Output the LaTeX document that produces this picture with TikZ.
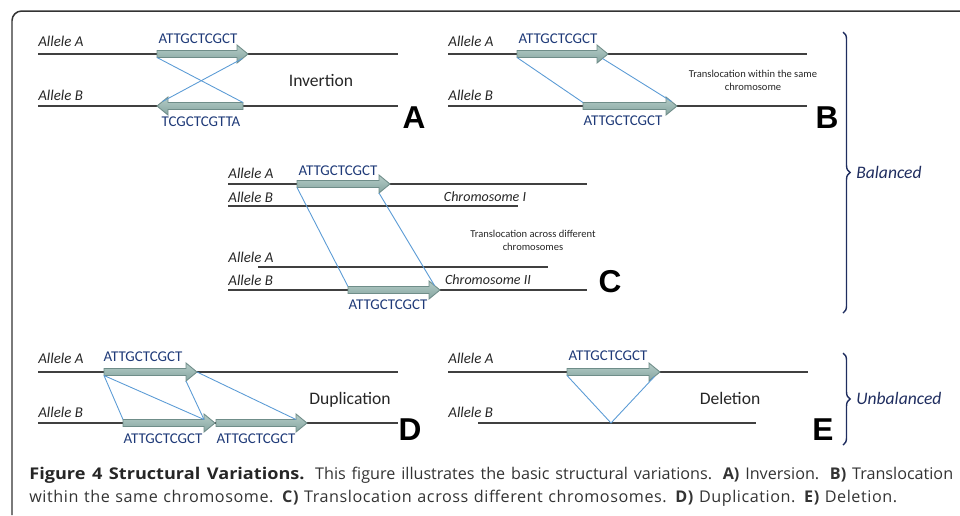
\documentclass[tikz,border=0pt]{standalone}
\usepackage{fontspec}
\setmainfont{Carlito}
\newfontfamily\letterfont{Liberation Sans}
\newfontfamily\capfont{Open Sans}
\newfontfamily\capwide[LetterSpace=3.5]{Open Sans}
\newfontfamily\captitle[FakeStretch=1.12]{Open Sans}
\usepackage{xcolor}
\usepackage{tikz}
\usetikzlibrary{decorations.pathreplacing,calc}
\definecolor{Backbone}{HTML}{404040}
\definecolor{SegTop}{HTML}{B4CBC6}
\definecolor{SegBot}{HTML}{86A6A1}
\definecolor{SegEdge}{HTML}{6F8D89}
\definecolor{Link}{HTML}{5B9BD5}
\definecolor{SeqNavy}{HTML}{1F3A78}
\definecolor{BraceNavy}{HTML}{1F2D5F}
\definecolor{CapGrey}{HTML}{333333}

% arrow-shaped segment: name, tail x, tip x, y
\newcommand{\seg}[4]{%
  \pgfmathsetmacro\hx{#3-11*sign(#3-#2)}
  \path[segarrow] (#2,#4-3.5) -- (\hx,#4-3.5) -- (\hx,#4-9) -- (#3,#4)
     -- (\hx,#4+9) -- (\hx,#4+3.5) -- (#2,#4+3.5) -- cycle;
  \coordinate (#1-tt)  at (#2,#4-3.5);
  \coordinate (#1-tb)  at (#2,#4+3.5);
  \coordinate (#1-jt)  at (\hx,#4-3.5);
  \coordinate (#1-hb)  at (\hx,#4+9);
  \coordinate (#1-us)  at ({(\hx+#3)/2},#4-4.5);
  \coordinate (#1-ls)  at ({(\hx+#3)/2},#4+4.5);
  \coordinate (#1-tip) at (#3,#4);
}

\begin{document}
\begin{tikzpicture}[
  x=0.02cm, y=-0.02cm,
  backbone/.style={draw=Backbone, line width=0.85pt},
  segarrow/.style={draw=SegEdge, line width=0.5pt, top color=SegTop, bottom color=SegBot},
  link/.style={draw=Link, line width=0.5pt},
  allele/.style={anchor=west, inner sep=0pt, text=black!85,
                 font=\fontsize{8.5}{10}\selectfont\itshape},
  seq/.style={inner sep=0pt, text=SeqNavy, font=\fontsize{8.5}{10}\selectfont},
  title/.style={inner sep=0pt, text=black!85, font=\fontsize{10}{12}\selectfont},
  note/.style={inner sep=0pt, align=center, text=black!85,
               font=\fontsize{6}{7.5}\selectfont},
  chrom/.style={inner sep=0pt, text=black!85, font=\fontsize{8}{10}\selectfont\itshape},
  panel/.style={inner sep=0pt, font=\letterfont\bfseries\fontsize{18}{20}\selectfont},
  grp/.style={decorate, decoration={brace, amplitude=4pt}, draw=BraceNavy, line width=0.8pt},
  grplabel/.style={anchor=west, inner sep=0pt, text=BraceNavy,
                   font=\fontsize{10}{12}\selectfont\itshape},
]
\useasboundingbox (0,0) rectangle (960,515);
\draw[line width=0.85pt, draw=black!80, rounded corners=5.5pt] (12,515) -- (12,11) -- (960,11);

% A: inversion
\node[allele] (aAa) at (38,41) {Allele A};
\node[allele] (aAb) at (38,95) {Allele B};
\draw[backbone] (38,54) -- (398,54);
\draw[backbone] (38,106) -- (398,106);
\seg{aA}{157}{248}{54}
\seg{aB}{243}{157}{106}
\node[seq] (aSa) at (198,39) {ATTGCTCGCT};
\node[seq] (aSb) at (201,122) {TCGCTCGTTA};
\draw[link] (aA-tb) -- (aB-tt);
\draw[link] (aB-us) -- (aA-ls);
\node[title] (aT) at (321,80) {Invertion};
\node[panel] (aL) at (414,118) {A};

% B: translocation, same chromosome
\node[allele] (bAa) at (448,41) {Allele A};
\node[allele] (bAb) at (448,95) {Allele B};
\draw[backbone] (448,54) -- (807,54);
\draw[backbone] (448,106) -- (807,106);
\seg{bA}{517}{608}{54}
\seg{bB}{583}{677}{106}
\node[seq] (bSa) at (558,39) {ATTGCTCGCT};
\node[seq] (bSb) at (623,121) {ATTGCTCGCT};
\draw[link] (bA-tb) -- (bB-tt);
\draw[link] (bA-ls) -- (bB-us);
\node[note] (bT) at (753,80) {Translocation within the same\\chromosome};
\node[panel] (bL) at (827,118) {B};

% C: translocation, different chromosomes
\node[allele] (cAa) at (228,173) {Allele A};
\node[allele] (cAb) at (228,197) {Allele B};
\node[allele] (cAc) at (228,257) {Allele A};
\node[allele] (cAd) at (228,280) {Allele B};
\draw[backbone] (228,184) -- (587,184);
\draw[backbone] (228,206) -- (518,206);
\draw[backbone] (258,267) -- (548,267);
\draw[backbone] (228,290) -- (587,290);
\seg{cA}{297}{390}{184}
\seg{cB}{348}{440}{290}
\node[seq] (cSa) at (338,171) {ATTGCTCGCT};
\node[seq] (cSb) at (388,305) {ATTGCTCGCT};
\draw[link] (cA-tb) -- (cB-tt);
\draw[link] (cA-hb) -- (cB-us);
\node[chrom] (cC1) at (485,197) {Chromosome I};
\node[chrom] (cC2) at (488,280) {Chromosome II};
\node[note] (cT) at (533,240) {Translocation across different\\chromosomes};
\node[panel] (cL) at (610,282) {C};

% D: duplication
\node[allele] (dAa) at (38,358) {Allele A};
\node[allele] (dAb) at (38,412) {Allele B};
\draw[backbone] (38,372) -- (398,372);
\draw[backbone] (38,423) -- (398,423);
\seg{dA}{104}{197}{372}
\seg{dB}{123}{215}{423}
\seg{dC}{216}{307}{423}
\node[seq] (dSa) at (143,357) {ATTGCTCGCT};
\node[seq] (dSb) at (163,439) {ATTGCTCGCT};
\node[seq] (dSc) at (256,439) {ATTGCTCGCT};
\draw[link] (dA-tb) -- (dB-tt);
\draw[link] (dA-tb) -- (dB-jt);
\draw[link] (dA-hb) -- (dB-jt);
\draw[link] (dA-tip) -- (dC-jt);
\node[title] (dT) at (350,400) {Duplication};
\node[panel] (dL) at (410,430) {D};

% E: deletion
\node[allele] (eAa) at (448,358) {Allele A};
\node[allele] (eAb) at (448,412) {Allele B};
\draw[backbone] (448,372) -- (808,372);
\draw[backbone] (478,423) -- (756,423);
\seg{eA}{567}{660}{372}
\node[seq] (eSa) at (608,356) {ATTGCTCGCT};
\coordinate (eGap) at (611,423);
\draw[link] (eA-tb) -- (eGap) -- (eA-ls);
\node[title] (eT) at (730,398) {Deletion};
\node[panel] (eL) at (823,430) {E};

% groups
\draw[grp] (843,32) -- (843,313);
\node[grplabel] (bal) at (856,172) {Balanced};
\draw[grp] (843,353) -- (843,445);
\node[grplabel] (unb) at (856,398) {Unbalanced};

\node[anchor=north west, inner sep=0pt, align=left, text=CapGrey,
      font=\capfont\fontsize{9.2}{13}\selectfont] (cap) at (29,467)
  {\hbox to 18.48cm{{\captitle\bfseries\color{black!85}Figure 4 Structural Variations.} This figure illustrates the basic structural variations. {\bfseries A)} Inversion. {\bfseries B)} Translocation}\\
   \hbox to 17.36cm{\capwide within the same chromosome. {\bfseries C)} Translocation across different chromosomes. {\bfseries D)} Duplication. {\bfseries E)} Deletion.}};
\end{tikzpicture}
\end{document}
